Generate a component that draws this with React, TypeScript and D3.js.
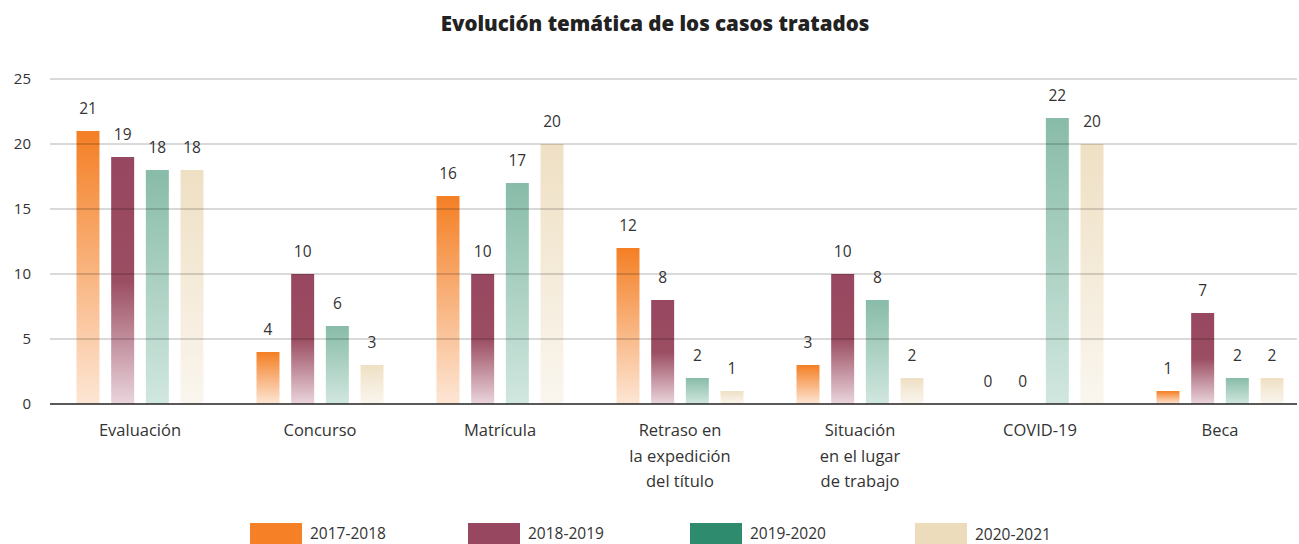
import React from "react";
import * as d3 from "d3";

const title = "Evolución temática de los casos tratados";
const categories = [
  ["Evaluación"],
  ["Concurso"],
  ["Matrícula"],
  ["Retraso en", "la expedición", "del título"],
  ["Situación", "en el lugar", "de trabajo"],
  ["COVID-19"],
  ["Beca"],
];
const seriesNames = ["2017-2018", "2018-2019", "2019-2020", "2020-2021"];
const s2017 = [21, 4, 16, 12, 3, 0, 1];
const s2018 = [19, 10, 10, 8, 10, 0, 7];
const s2019 = [18, 6, 17, 2, 8, 22, 2];
const s2020 = [18, 3, 20, 1, 2, 20, 2];
const seriesValues = [s2017, s2018, s2019, s2020];
const yTicks = [0, 5, 10, 15, 20, 25];

const legendColors = ["#F58025", "#974760", "#2F8B6E", "#EDDCBB"];
const gradStops = [
  [["0", "#F47F24"], ["1", "#FDE6D5"]],
  [["0", "#974760"], ["0.5", "#9B4D62"], ["1", "#EAD5DC"]],
  [["0", "#88BCA8"], ["1", "#D1E7DF"]],
  [["0", "#EFE0C4"], ["1", "#FAF6EF"]],
];

const FONT = "'Open Sans', Lato, sans-serif";

export default function App() {
  const W = 1299, H = 544;
  const y0 = 404, y25 = 79;
  const x = d3.scaleBand<number>().domain(d3.range(categories.length)).range([50, 1310]).padding(0);
  const inner = d3.scaleBand<number>().domain(d3.range(4)).range([-63.5, 63.5]).paddingInner(0.337).paddingOuter(0);
  const y = d3.scaleLinear().domain([0, 25]).range([y0, y25]);
  const textColor = "#333";
  const legendX = [250, 468, 690, 915];

  return (
    <svg width={W} height={H} style={{ position: "absolute", left: 0, top: 0, background: "#fff" }} fontFamily={FONT}>
      <defs>
        {gradStops.map((stops, i) => (
          <linearGradient key={i} id={`g${i}`} x1="0" y1="0" x2="0" y2="1">
            {stops.map(([o, c], j) => (
              <stop key={j} offset={o} stopColor={c} />
            ))}
          </linearGradient>
        ))}
      </defs>
      <text x={655} y={31} textAnchor="middle" fontSize={20.5} fontWeight={800} fill="#222">
        {title}
      </text>
      {yTicks.map((t) => (
        <text key={t} x={31} y={y(t) + 5} textAnchor="end" fontSize={15} fill={textColor}>
          {t}
        </text>
      ))}
      {categories.map((_, ci) =>
        seriesValues.map((vals, si) => {
          const cx = (x(ci) as number) + x.bandwidth() / 2;
          const bx = cx + (inner(si) as number);
          const v = vals[ci];
          return (
            <g key={`${ci}-${si}`}>
              {v > 0 && (
                <rect x={bx} y={y(v)} width={inner.bandwidth()} height={y0 - y(v)} fill={`url(#g${si})`} />
              )}
              <text x={bx + inner.bandwidth() / 2} y={y(v) - 17} textAnchor="middle" fontSize={15.5} fill={textColor}>
                {v}
              </text>
            </g>
          );
        })
      )}
      {yTicks.filter((t) => t > 0).map((t) => (
        <line key={t} x1={50} x2={1297} y1={y(t)} y2={y(t)} stroke="#000" strokeOpacity={0.2} strokeWidth={1.5} />
      ))}
      <line x1={50} x2={1297} y1={y0} y2={y0} stroke="#222" strokeWidth={1.5} />
      {categories.map((lines, ci) => {
        const cx = (x(ci) as number) + x.bandwidth() / 2;
        return (
          <text key={ci} textAnchor="middle" fontSize={16.5} fill={textColor}>
            {lines.map((l, li) => (
              <tspan key={li} x={cx} y={436 + li * 25.5}>
                {l}
              </tspan>
            ))}
          </text>
        );
      })}
      {seriesNames.map((n, i) => (
        <g key={n}>
          <rect x={legendX[i]} y={523} width={52} height={24} fill={legendColors[i]} />
          <text x={legendX[i] + 60} y={i === 3 ? 540 : 539} fontSize={15.5} fill={textColor}>
            {n}
          </text>
        </g>
      ))}
    </svg>
  );
}
